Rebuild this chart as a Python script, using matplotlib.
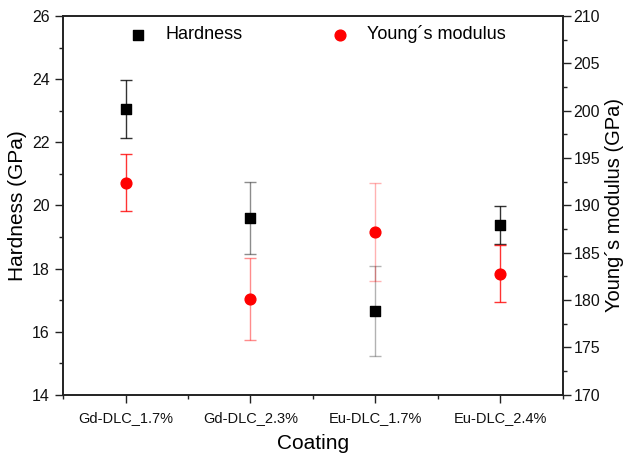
import numpy as np
import matplotlib.pyplot as plt
from matplotlib.ticker import MultipleLocator

plt.rcParams['font.family'] = ['Liberation Sans', 'DejaVu Sans']

coatings = ['Gd-DLC_1.7%', 'Gd-DLC_2.3%', 'Eu-DLC_1.7%', 'Eu-DLC_2.4%']
hardness = [23.06, 19.61, 16.66, 19.38]
hardness_err = [0.91, 1.14, 1.42, 0.60]
modulus = [192.4, 180.1, 187.2, 182.8]
modulus_err = [3.0, 4.3, 5.2, 3.0]
# error bar opacity per coating
bar_alpha = [0.8, 0.45, 0.3, 0.8]

x = np.arange(1, len(coatings) + 1)

fig, ax = plt.subplots(figsize=(6.25, 4.58), dpi=100)
fig.subplots_adjust(left=0.101, right=0.9, top=0.965, bottom=0.138)
ax2 = ax.twinx()

for i in range(len(x)):
    ax.errorbar(x[i], hardness[i], yerr=hardness_err[i], fmt='none',
                ecolor='black', elinewidth=1, capsize=4, capthick=1,
                alpha=bar_alpha[i], zorder=2)
    ax2.errorbar(x[i], modulus[i], yerr=modulus_err[i], fmt='none',
                 ecolor='red', elinewidth=1, capsize=4, capthick=1,
                 alpha=bar_alpha[i], zorder=2)
h1 = ax.scatter(x, hardness, marker='s', s=55, color='black', zorder=3,
                label='Hardness')
h2 = ax2.scatter(x, modulus, marker='o', s=60, color='red', zorder=3,
                 label='Young´s modulus')

ax.set_xlim(0.5, 4.5)
ax.set_ylim(14, 26)
ax2.set_ylim(170, 210)
ax.set_xticks(x)
ax.set_xticklabels(coatings)
ax.xaxis.set_minor_locator(MultipleLocator(0.5))
ax.yaxis.set_major_locator(MultipleLocator(2))
ax.yaxis.set_minor_locator(MultipleLocator(1))
ax2.yaxis.set_major_locator(MultipleLocator(5))
ax2.yaxis.set_minor_locator(MultipleLocator(2.5))

for a in (ax, ax2):
    a.tick_params(which='major', direction='out', length=6, width=1,
                  labelsize=11.5, colors='#222222', labelcolor='#111111')
    a.tick_params(which='minor', direction='out', length=3, width=1,
                  colors='#222222')
    for sp in a.spines.values():
        sp.set_linewidth(1.2)
        sp.set_color('#222222')
ax.tick_params(axis='x', which='major', labelsize=10.5, pad=6)
ax2.tick_params(axis='y', which='major', pad=2)

ax.set_xlabel('Coating', fontsize=15, labelpad=6)
ax.set_ylabel('Hardness (GPa)', fontsize=15, labelpad=4)
ax2.set_ylabel('Young´s modulus (GPa)', fontsize=14.5, labelpad=3)

ax.legend(handles=[h1, h2], loc='upper center', ncol=2, frameon=False,
          fontsize=13, bbox_to_anchor=(0.5, 1.018), columnspacing=4.4,
          handletextpad=0.5, scatterpoints=1)

fig.savefig('out.png', dpi=100)
